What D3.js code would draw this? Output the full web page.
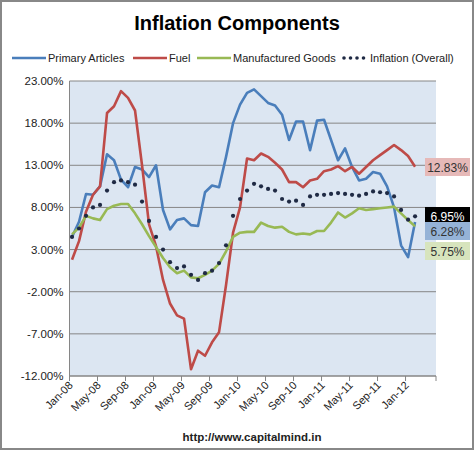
<!DOCTYPE html><html><head><meta charset="utf-8"><script src="https://cdn.jsdelivr.net/npm/d3@7"></script>
<style>body{margin:0;background:#fff}</style></head><body><svg id="c" width="474" height="450"></svg>
<script>
const months=["Jan","Feb","Mar","Apr","May","Jun","Jul","Aug","Sep","Oct","Nov","Dec"];
const categories=[];for(let y=8;y<=12;y++)for(let m=0;m<12;m++){if(y===12&&m>1)break;categories.push(months[m]+"-"+String(y).padStart(2,"0"));}
const primary=[4.5,6.3,9.6,9.5,10.5,14.3,13.6,11.3,10.4,12.8,12.5,11.6,13.0,7.7,5.4,6.5,6.7,5.9,5.8,9.8,10.6,10.4,14.0,18.0,20.2,21.6,22.0,21.2,20.4,20.1,19.0,16.0,18.2,18.2,14.8,18.3,18.4,16.0,13.6,15.0,12.8,11.2,11.4,12.2,12.0,10.5,8.0,3.5,2.1,6.28];
const fuel=[1.8,4.0,7.5,9.5,10.5,19.2,20.0,21.8,21.0,19.5,13.0,6.0,3.4,-0.6,-3.4,-4.8,-5.2,-11.2,-9.0,-9.6,-8.0,-6.8,-1.2,5.0,8.0,13.8,13.6,14.4,14.0,13.3,12.5,11.0,11.0,10.4,11.2,11.4,12.3,12.5,12.9,12.3,12.8,12.0,12.8,13.6,14.2,14.8,15.4,14.8,14.1,12.83];
const manuf=[4.8,5.6,7.0,6.7,6.5,7.8,8.2,8.4,8.4,7.3,6.0,4.6,3.3,2.0,0.9,0.2,0.5,-0.3,-0.4,0.0,0.5,1.3,2.8,4.5,5.0,5.1,5.1,6.2,5.8,5.6,5.7,5.1,4.8,4.9,4.8,5.2,5.2,6.2,7.4,6.8,7.3,7.9,7.7,7.8,7.9,8.0,8.1,7.3,6.5,5.75];
const overall=[4.5,5.5,7.0,8.0,8.3,10.0,11.0,11.2,11.0,10.7,8.7,6.4,4.5,3.0,1.5,0.8,1.0,0.0,-0.6,0.2,0.5,1.4,3.5,7.0,9.0,10.0,10.8,10.5,10.2,10.0,9.0,8.7,8.8,8.3,9.3,9.5,9.5,9.6,9.7,9.6,9.5,9.4,9.6,9.9,9.8,9.7,9.3,7.7,6.55,6.95];
const yTicks=[23,18,13,8,3,-2,-7,-12];
const series=[{name:"Primary Articles",v:primary,c:"#4a7ebb"},{name:"Fuel",v:fuel,c:"#be4b48"},{name:"Manufactured Goods",v:manuf,c:"#98b954"},{name:"Inflation (Overall)",v:overall,c:"#1f2a44",dot:true}];
const endLabels=[{t:"12.83%",v:12.83,bg:"#e6b9b8",fg:"#333",y:167},{t:"6.95%",v:6.95,bg:"#000",fg:"#fff",y:216},{t:"6.28%",v:6.28,bg:"#95b3d7",fg:"#333",y:231},{t:"5.75%",v:5.75,bg:"#d7e4bd",fg:"#333",y:251}];
const svg=d3.select("#c");const F="Liberation Sans, Arial, sans-serif";
svg.append("rect").attr("x",1).attr("y",1).attr("width",472).attr("height",448).attr("fill","#fff").attr("stroke","#888").attr("stroke-width",2);
const L=69.5,R=436,T=81,B=376;
const x=d3.scaleLinear().domain([0,52.35]).range([L,R]);
const y=d3.scaleLinear().domain([-12,23]).range([B,T]);
const px=i=>x(i+0.36);
svg.append("rect").attr("x",L).attr("y",T).attr("width",R-L).attr("height",B-T).attr("fill","#dce6f2");
yTicks.forEach(t=>{svg.append("line").attr("x1",L).attr("x2",R).attr("y1",y(t)).attr("y2",y(t)).attr("stroke","#868686");
svg.append("text").attr("x",L-6).attr("y",y(t)+4).attr("text-anchor","end").attr("font-family",F).attr("font-size",11.5).attr("fill","#222").text(t.toFixed(2)+"%");});
svg.append("line").attr("x1",L).attr("x2",L).attr("y1",T).attr("y2",B).attr("stroke","#868686");
svg.append("line").attr("x1",L).attr("x2",R).attr("y1",B).attr("y2",B).attr("stroke","#868686");
for(let k=0;k<=13;k++){const xx=k===13?R:x(k*4);svg.append("line").attr("x1",xx).attr("x2",xx).attr("y1",B).attr("y2",B+5).attr("stroke","#868686");
if(k<13){svg.append("text").attr("transform",`translate(${xx+4},${B+10}) rotate(-45)`).attr("text-anchor","end").attr("font-family",F).attr("font-size",11).attr("fill","#222").text(categories[k*4]);}}
const line=d3.line().x((d,i)=>px(i)).y(d=>y(d));
series.forEach(s=>{if(s.dot){svg.append("g").selectAll("circle").data(s.v.map((v,i)=>[v,i])).join("circle").attr("cx",d=>px(d[1])).attr("cy",d=>y(d[0])).attr("r",2.1).attr("fill",s.c);}
else svg.append("path").attr("d",line(s.v)).attr("fill","none").attr("stroke",s.c).attr("stroke-width",2.6).attr("stroke-linejoin","round");});
endLabels.forEach(e=>{svg.append("rect").attr("x",425).attr("y",e.y-9).attr("width",45).attr("height",18).attr("fill",e.bg);
svg.append("text").attr("x",447.5).attr("y",e.y+4.5).attr("text-anchor","middle").attr("font-family",F).attr("font-size",12).attr("fill",e.fg).text(e.t);});
svg.append("text").attr("x",237).attr("y",30).attr("text-anchor","middle").attr("font-family",F).attr("font-weight","bold").attr("font-size",20).attr("fill","#000").text("Inflation Components");
const lg=[[12,"Primary Articles"],[133,"Fuel"],[197,"Manufactured Goods"],[342,"Inflation (Overall)"]];
series.forEach((s,i)=>{const lx=lg[i][0];
if(s.dot){for(let j=0;j<4;j++)svg.append("circle").attr("cx",lx+2+j*6.5).attr("cy",58).attr("r",1.8).attr("fill",s.c);}
else svg.append("line").attr("x1",lx).attr("x2",lx+34).attr("y1",58).attr("y2",58).attr("stroke",s.c).attr("stroke-width",2.6);
svg.append("text").attr("x",lx+(s.dot?28:36)).attr("y",62).attr("font-family",F).attr("font-size",11).attr("fill","#222").text(s.name);});
svg.append("text").attr("x",252).attr("y",441).attr("text-anchor","middle").attr("font-family",F).attr("font-weight","bold").attr("font-size",11.5).attr("fill","#222").text("http://www.capitalmind.in");
</script></body></html>
